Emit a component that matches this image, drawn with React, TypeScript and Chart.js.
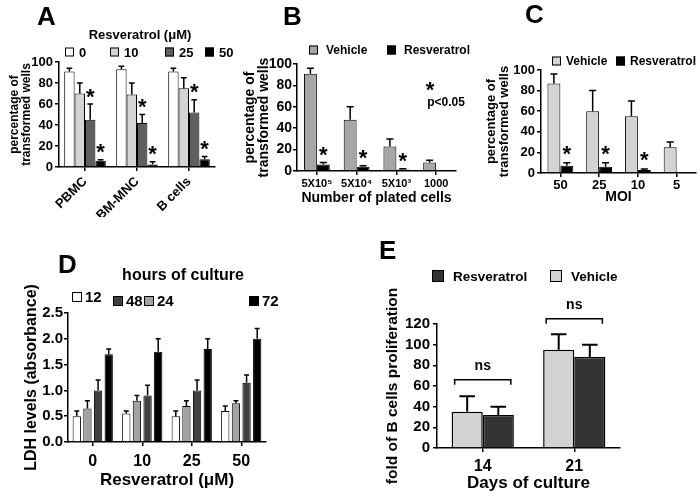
import React, { useEffect, useRef } from "react";
import { Chart, registerables } from "chart.js";

Chart.register(...registerables);

const FONT = "'Liberation Sans', Arial, Helvetica, sans-serif";
Chart.defaults.font.family = FONT;
Chart.defaults.color = "#000";

// ================= DATA =================
// Panel A
const aCategories = ["PBMC", "BM-MNC", "B cells"];
const aLegendTitle = "Resveratrol (μM)";
const aDoseLabels = ["0", "10", "25", "50"];
const aDose0 = [91, 93, 91];
const aDose0Err = [94, 96, 94];
const aDose10 = [70, 69, 75];
const aDose10Err = [80, 80, 85];
const aDose25 = [45, 42, 52];
const aDose25Err = [60, 50, 64];
const aDose50 = [6, 2.5, 7.5];
const aDose50Err = [7, 5, 10];
const aDose25Star = [true, true, true];
const aDose50Star = [true, true, true];
const aYTitle = ["percentage of", "transformed wells"];

// Panel B
const bCategories = ["5X10⁵", "5X10⁴", "5X10³", "1000"];
const bSeriesLabels = ["Vehicle", "Resveratrol"];
const bVehicle = [91, 48, 23, 8];
const bVehicleErr = [96, 60, 30, 10];
const bResv = [6, 4, 1.5, null];
const bResvErr = [8, 5, 2, null];
const bResvStar = [true, true, true, false];
const bYTitle = ["percentage of", "transformed wells"];
const bXTitle = "Number of plated cells";
const bNote = "p<0.05";

// Panel C
const cCategories = ["50", "25", "10", "5"];
const cSeriesLabels = ["Vehicle", "Resveratrol"];
const cVehicle = [87, 60, 55, 25];
const cVehicleErr = [96, 80, 70, 30];
const cResv = [7, 6, 3, null];
const cResvErr = [10, 10, 4, null];
const cResvStar = [true, true, true, false];
const cYTitle = ["percentage of", "transformed wells"];
const cXTitle = "MOI";

// Panel D
const dCategories = ["0", "10", "25", "50"];
const dLegendTitle = "hours of culture";
const dHourLabels = ["12", "24", "48", "72"];
const dH12 = [0.5, 0.55, 0.5, 0.6];
const dH12Err = [0.6, 0.6, 0.6, 0.7];
const dH24 = [0.65, 0.8, 0.7, 0.75];
const dH24Err = [0.8, 0.9, 0.8, 0.8];
const dH48 = [1.0, 0.9, 1.0, 1.15];
const dH48Err = [1.2, 1.1, 1.2, 1.3];
const dH72 = [1.7, 1.75, 1.8, 2.0];
const dH72Err = [1.8, 2.0, 2.0, 2.2];
const dYTitle = "LDH levels (absorbance)";
const dXTitle = "Resveratrol (μM)";

// Panel E
const eCategories = ["14", "21"];
const eSeriesLabels = ["Vehicle", "Resveratrol"];
const eVehicle = [35, 95];
const eVehicleErr = [50, 110];
const eResv = [32, 88];
const eResvErr = [40, 100];
const eBracketLevels = [66, 125];
const eBracketLabels = ["ns", "ns"];
const eYTitle = "fold of B cells proliferation";
const eXTitle = "Days of culture";

// ================= STYLES =================
const aColors = ["#ffffff", "#d4d4d4", "#5f5f5f", "#000000"];
const bColors = ["#a6a6a6", "#000000"];
const cColors = ["#d3d3d3", "#000000"];
const dColors = ["#ffffff", "#a3a3a3", "#404040", "#000000"];
const eColors = ["#d3d3d3", "#333333"];

type TextItem = { text: string; x: number; y: number; size: number; align?: CanvasTextAlign; baseline?: CanvasTextBaseline; star?: boolean };
type LegendItem = { ds: number; x: number; y: number };
type Extras = {
  texts: TextItem[];
  legend: { items: LegendItem[]; box: number; gap: number; size: number };
  capFrac: number;
  errWidth: number;
  starGap: number;
  starSize: number;
  brackets?: { cats: number[]; levels: number[]; labels: string[]; tick: number; gap: number; size: number; inset: number };
};

function drawStar(ctx: CanvasRenderingContext2D, x: number, cy: number, size: number) {
  ctx.font = `bold ${size}px ${FONT}`;
  ctx.textAlign = "center";
  ctx.textBaseline = "alphabetic";
  const m = ctx.measureText("*");
  const asc = m.actualBoundingBoxAscent || size * 0.72;
  const desc = m.actualBoundingBoxDescent || -size * 0.42;
  ctx.fillText("*", x, cy + (asc - desc) / 2);
}

function makeExtras(ex: Extras) {
  return {
    id: "extras",
    afterDraw(chart: any) {
      const ctx: CanvasRenderingContext2D = chart.ctx;
      const yScale = chart.scales.y;
      ctx.save();
      ctx.fillStyle = "#000";
      ctx.strokeStyle = "#000";
      // error bars + stars
      chart.data.datasets.forEach((ds: any, i: number) => {
        const meta = chart.getDatasetMeta(i);
        const err = ds.errTop || [];
        const stars = ds.stars || [];
        meta.data.forEach((el: any, j: number) => {
          const e = err[j];
          const v = ds.data[j];
          if (e == null || v == null) return;
          const x = el.x;
          const yTop = el.y;
          const yE = yScale.getPixelForValue(e);
          const cw = el.width * ex.capFrac;
          ctx.lineWidth = ex.errWidth;
          ctx.beginPath();
          ctx.moveTo(x, yTop);
          ctx.lineTo(x, yE);
          ctx.moveTo(x - cw / 2, yE);
          ctx.lineTo(x + cw / 2, yE);
          ctx.stroke();
          if (stars[j]) drawStar(ctx, x, yE - ex.starGap, ex.starSize);
        });
      });
      // brackets
      if (ex.brackets) {
        const b = ex.brackets;
        b.cats.forEach((c, k) => {
          let l = Infinity;
          let r = -Infinity;
          chart.data.datasets.forEach((_ds: any, i: number) => {
            const el = chart.getDatasetMeta(i).data[c];
            if (!el) return;
            l = Math.min(l, el.x - el.width / 2);
            r = Math.max(r, el.x + el.width / 2);
          });
          l += b.inset;
          r -= b.inset;
          const y = yScale.getPixelForValue(b.levels[k]);
          ctx.lineWidth = 1.5;
          ctx.beginPath();
          ctx.moveTo(l, y + b.tick);
          ctx.lineTo(l, y);
          ctx.lineTo(r, y);
          ctx.lineTo(r, y + b.tick);
          ctx.stroke();
          ctx.font = `bold ${b.size}px ${FONT}`;
          ctx.textAlign = "center";
          ctx.textBaseline = "middle";
          ctx.fillText(b.labels[k], (l + r) / 2, y - b.gap);
        });
      }
      // legend
      const lg = ex.legend;
      lg.items.forEach((it) => {
        const ds = chart.data.datasets[it.ds];
        ctx.fillStyle = ds.backgroundColor;
        ctx.fillRect(it.x, it.y - lg.box / 2, lg.box, lg.box);
        ctx.lineWidth = 1;
        ctx.strokeStyle = "#000";
        ctx.strokeRect(it.x + 0.5, it.y - lg.box / 2 + 0.5, lg.box - 1, lg.box - 1);
        ctx.fillStyle = "#000";
        ctx.font = `bold ${lg.size}px ${FONT}`;
        ctx.textAlign = "left";
        ctx.textBaseline = "middle";
        ctx.fillText(ds.label, it.x + lg.box + lg.gap, it.y + 1);
      });
      // texts
      ex.texts.forEach((t) => {
        ctx.fillStyle = "#000";
        if (t.star) {
          drawStar(ctx, t.x, t.y, t.size);
          return;
        }
        ctx.font = `bold ${t.size}px ${FONT}`;
        ctx.textAlign = t.align || "left";
        ctx.textBaseline = t.baseline || "alphabetic";
        ctx.fillText(t.text, t.x, t.y);
      });
      ctx.restore();
    },
  };
}

type BarSpec = {
  labels: string[];
  datasets: any[];
  W: number;
  H: number;
  area: { left: number; right: number; top: number; bottom: number };
  xH: number;
  catPct: number;
  barPct: number;
  borderWidth: number;
  y: { min: number; max: number; step: number; size: number; pad: number; decimals: number; title: string | string[]; titleSize: number; titlePad: number };
  x: { size: number; pad: number; rotation: number; title?: string; titleSize?: number; titlePad?: number };
  extras: Extras;
};

function barConfig(s: BarSpec): any {
  const grid = { display: true, drawOnChartArea: false, drawTicks: true, tickLength: 4, color: "#000", lineWidth: 1.5, offset: false };
  const border = { display: true, color: "#000", width: 1.5 };
  return {
    type: "bar",
    data: {
      labels: s.labels,
      datasets: s.datasets.map((d) => ({
        ...d,
        categoryPercentage: s.catPct,
        barPercentage: s.barPct,
        borderColor: "#000",
        borderWidth: s.borderWidth,
      })),
    },
    options: {
      responsive: false,
      animation: false,
      devicePixelRatio: 1,
      events: [],
      layout: { padding: { left: 0, top: s.area.top, right: s.W - s.area.right, bottom: s.H - s.area.bottom - s.xH } },
      plugins: { legend: { display: false }, tooltip: { enabled: false }, title: { display: false } },
      scales: {
        x: {
          grid,
          border,
          ticks: {
            autoSkip: false,
            maxRotation: s.x.rotation,
            minRotation: s.x.rotation,
            padding: s.x.pad,
            color: "#000",
            font: { size: s.x.size, weight: "bold", family: FONT },
          },
          title: s.x.title
            ? {
                display: true,
                text: s.x.title,
                color: "#000",
                font: { size: s.x.titleSize, weight: "bold", family: FONT, lineHeight: 1 },
                padding: { top: 0, bottom: s.x.titlePad },
              }
            : { display: false },
          afterFit: (sc: any) => {
            sc.height = s.xH;
          },
        },
        y: {
          min: s.y.min,
          max: s.y.max,
          grid,
          border,
          ticks: {
            autoSkip: false,
            stepSize: s.y.step,
            padding: s.y.pad,
            color: "#000",
            font: { size: s.y.size, weight: "bold", family: FONT },
            callback: (v: any) => Number(v).toFixed(s.y.decimals),
          },
          title: {
            display: true,
            text: s.y.title,
            color: "#000",
            font: { size: s.y.titleSize, weight: "bold", family: FONT, lineHeight: 1 },
            padding: { top: s.y.titlePad, bottom: 0 },
          },
          afterFit: (sc: any) => {
            sc.width = s.area.left;
          },
        },
      },
    },
    plugins: [makeExtras(s.extras)],
  };
}

function panelA() {
  const vals = [aDose0, aDose10, aDose25, aDose50];
  const errs = [aDose0Err, aDose10Err, aDose25Err, aDose50Err];
  const stars = [null, null, aDose25Star, aDose50Star];
  return barConfig({
    labels: aCategories,
    datasets: aDoseLabels.map((l, i) => ({ label: l, data: vals[i], errTop: errs[i], stars: stars[i], backgroundColor: aColors[i] })),
    W: 235,
    H: 230,
    area: { left: 59, right: 215, top: 62, bottom: 167 },
    xH: 50,
    catPct: 0.8,
    barPct: 1,
    borderWidth: 1,
    y: { min: 0, max: 100, step: 20, size: 13, pad: 2, decimals: 0, title: aYTitle, titleSize: 12, titlePad: 9 },
    x: { size: 13, pad: 3, rotation: 45 },
    extras: {
      texts: [
        { text: "A", x: 37, y: 25, size: 26 },
        { text: aLegendTitle, x: 140, y: 35, size: 13, align: "center", baseline: "middle" },
      ],
      legend: { items: [{ ds: 0, x: 65, y: 52 }, { ds: 1, x: 110, y: 52 }, { ds: 2, x: 165, y: 52 }, { ds: 3, x: 205, y: 52 }], box: 9, gap: 5, size: 13 },
      capFrac: 0.55,
      errWidth: 1.5,
      starGap: 11,
      starSize: 22,
    },
  });
}

function panelB() {
  return barConfig({
    labels: bCategories,
    datasets: [
      { label: bSeriesLabels[0], data: bVehicle, errTop: bVehicleErr, backgroundColor: bColors[0] },
      { label: bSeriesLabels[1], data: bResv, errTop: bResvErr, stars: bResvStar, backgroundColor: bColors[1] },
    ],
    W: 235,
    H: 230,
    area: { left: 62, right: 221, top: 64, bottom: 171 },
    xH: 40,
    catPct: 0.65,
    barPct: 1,
    borderWidth: 1,
    y: { min: 0, max: 100, step: 20, size: 14, pad: 1, decimals: 0, title: bYTitle, titleSize: 14, titlePad: 8 },
    x: { size: 11, pad: 2, rotation: 0, title: bXTitle, titleSize: 14, titlePad: 6 },
    extras: {
      texts: [
        { text: "B", x: 48, y: 25, size: 26 },
        { text: "*", x: 195, y: 86, size: 22, star: true },
        { text: bNote, x: 211, y: 103, size: 12, align: "center", baseline: "middle" },
      ],
      legend: { items: [{ ds: 0, x: 74, y: 50 }, { ds: 1, x: 152, y: 50 }], box: 9, gap: 8, size: 12 },
      capFrac: 0.55,
      errWidth: 1.5,
      starGap: 11,
      starSize: 22,
    },
  });
}

function panelC() {
  return barConfig({
    labels: cCategories,
    datasets: [
      { label: cSeriesLabels[0], data: cVehicle, errTop: cVehicleErr, backgroundColor: cColors[0] },
      { label: cSeriesLabels[1], data: cResv, errTop: cResvErr, stars: cResvStar, backgroundColor: cColors[1] },
    ],
    W: 230,
    H: 230,
    area: { left: 71, right: 226, top: 70, bottom: 173 },
    xH: 40,
    catPct: 0.667,
    barPct: 1,
    borderWidth: 1,
    y: { min: 0, max: 100, step: 20, size: 13, pad: 2, decimals: 0, title: cYTitle, titleSize: 13, titlePad: 15 },
    x: { size: 13, pad: 1, rotation: 0, title: cXTitle, titleSize: 14, titlePad: 9 },
    extras: {
      texts: [{ text: "C", x: 55, y: 23, size: 26 }],
      legend: { items: [{ ds: 0, x: 82, y: 61 }, { ds: 1, x: 146, y: 61 }], box: 9, gap: 5, size: 12 },
      capFrac: 0.55,
      errWidth: 1.5,
      starGap: 12,
      starSize: 22,
    },
  });
}

function panelD() {
  const vals = [dH12, dH24, dH48, dH72];
  const errs = [dH12Err, dH24Err, dH48Err, dH72Err];
  return barConfig({
    labels: dCategories,
    datasets: dHourLabels.map((l, i) => ({ label: l, data: vals[i], errTop: errs[i], backgroundColor: dColors[i] })),
    W: 300,
    H: 266,
    area: { left: 68, right: 266, top: 83, bottom: 212 },
    xH: 50,
    catPct: 0.86,
    barPct: 0.78,
    borderWidth: 1,
    y: { min: 0, max: 2.5, step: 0.5, size: 15, pad: 1, decimals: 1, title: dYTitle, titleSize: 16, titlePad: 24 },
    x: { size: 16, pad: 6, rotation: 0, title: dXTitle, titleSize: 17, titlePad: 3 },
    extras: {
      texts: [
        { text: "D", x: 58, y: 43, size: 26 },
        { text: dLegendTitle, x: 183, y: 46, size: 16, align: "center", baseline: "middle" },
      ],
      legend: {
        items: [
          { ds: 0, x: 72, y: 67 },
          { ds: 2, x: 113, y: 71 },
          { ds: 1, x: 144, y: 71 },
          { ds: 3, x: 249, y: 71 },
        ],
        box: 10,
        gap: 3,
        size: 15,
      },
      capFrac: 0.6,
      errWidth: 1.5,
      starGap: 10,
      starSize: 20,
    },
  });
}

function panelE() {
  return barConfig({
    labels: eCategories,
    datasets: [
      { label: eSeriesLabels[0], data: eVehicle, errTop: eVehicleErr, backgroundColor: eColors[0] },
      { label: eSeriesLabels[1], data: eResv, errTop: eResvErr, backgroundColor: eColors[1] },
    ],
    W: 370,
    H: 266,
    area: { left: 107, right: 290, top: 94, bottom: 218 },
    xH: 45,
    catPct: 0.68,
    barPct: 1,
    borderWidth: 1.5,
    y: { min: 0, max: 120, step: 20, size: 15, pad: 3, decimals: 0, title: eYTitle, titleSize: 15.5, titlePad: 55 },
    x: { size: 16, pad: 5, rotation: 0, title: eXTitle, titleSize: 17, titlePad: 1.5 },
    extras: {
      texts: [{ text: "E", x: 49, y: 29, size: 26 }],
      legend: { items: [{ ds: 1, x: 102, y: 46 }, { ds: 0, x: 220, y: 46 }], box: 12, gap: 9, size: 13.5 },
      capFrac: 0.5,
      errWidth: 2,
      starGap: 10,
      starSize: 20,
      brackets: { cats: [0, 1], levels: eBracketLevels, labels: eBracketLabels, tick: 5, gap: 14, size: 14, inset: 3 },
    },
  });
}

function ChartBox(props: { left: number; top: number; width: number; height: number; make: () => any }) {
  const ref = useRef<HTMLCanvasElement | null>(null);
  useEffect(() => {
    if (!ref.current) return;
    const chart = new Chart(ref.current, props.make());
    return () => chart.destroy();
  }, []);
  return (
    <div style={{ position: "absolute", left: props.left, top: props.top, width: props.width, height: props.height }}>
      <canvas ref={ref} width={props.width} height={props.height} style={{ display: "block", width: props.width, height: props.height }} />
    </div>
  );
}

export default function App() {
  return (
    <div style={{ position: "absolute", left: 0, top: 0, width: 700, height: 496, background: "#fff", overflow: "hidden" }}>
      <ChartBox left={0} top={0} width={235} height={230} make={panelA} />
      <ChartBox left={235} top={0} width={235} height={230} make={panelB} />
      <ChartBox left={470} top={0} width={230} height={230} make={panelC} />
      <ChartBox left={0} top={230} width={300} height={266} make={panelD} />
      <ChartBox left={330} top={230} width={370} height={266} make={panelE} />
    </div>
  );
}
